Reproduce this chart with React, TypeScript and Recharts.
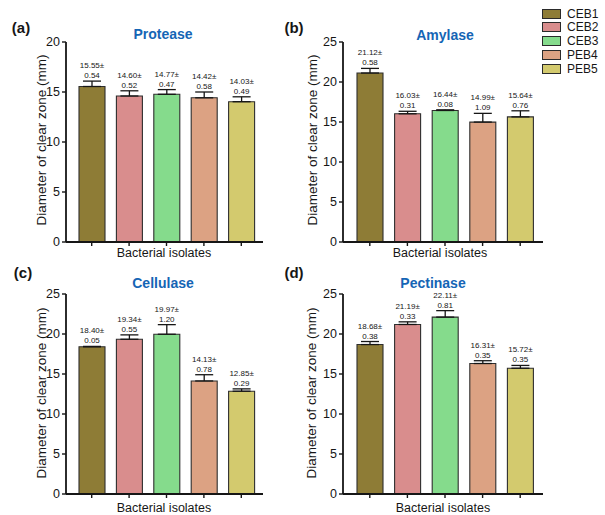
import { BarChart, Bar, XAxis, YAxis, ErrorBar, Cell, LabelList } from "recharts";

const isolates = ["CEB1", "CEB2", "CEB3", "PEB4", "PEB5"];

const proteaseMean = [15.55, 14.6, 14.77, 14.42, 14.03];
const proteaseSd = [0.54, 0.52, 0.47, 0.58, 0.49];
const amylaseMean = [21.12, 16.03, 16.44, 14.99, 15.64];
const amylaseSd = [0.58, 0.31, 0.08, 1.09, 0.76];
const cellulaseMean = [18.4, 19.34, 19.97, 14.13, 12.85];
const cellulaseSd = [0.05, 0.55, 1.2, 0.78, 0.29];
const pectinaseMean = [18.68, 21.19, 22.11, 16.31, 15.72];
const pectinaseSd = [0.38, 0.33, 0.81, 0.35, 0.35];

const ticks20 = [0, 5, 10, 15, 20];
const ticks25 = [0, 5, 10, 15, 20, 25];

const fills = ["#8e7c36", "#d98d8d", "#85db8c", "#dca283", "#d3ca6e"];
const font = "'Liberation Sans', Arial, sans-serif";
const ink = "#161616";
const titleBlue = "#1565b5";

type PanelProps = {
  left: number;
  top: number;
  width: number;
  plotWidth: number;
  marginLeft: number;
  padLeft: number;
  padRight: number;
  mean: number[];
  sd: number[];
  max: number;
  ticks: number[];
};

function Panel({ left, top, width, plotWidth, marginLeft, padLeft, padRight, mean, sd, max, ticks }: PanelProps) {
  const data = isolates.map((name, i) => ({ name, mean: mean[i], err: [0, sd[i]] }));

  const renderLabel = (props: any) => {
    const { x, y, width: w, height: h, value } = props;
    const i = isolates.indexOf(value);
    if (i < 0) return null;
    const pxPerUnit = Math.abs(h) / mean[i];
    const errTop = y - sd[i] * pxPerUnit;
    const cx = x + w / 2;
    return (
      <g>
        <text x={cx} y={errTop - 13} textAnchor="middle" fontSize={8} fill={ink} fontFamily={font}>
          {mean[i].toFixed(2)}±
        </text>
        <text x={cx} y={errTop - 3} textAnchor="middle" fontSize={8} fill={ink} fontFamily={font}>
          {sd[i].toFixed(2)}
        </text>
      </g>
    );
  };

  return (
    <div style={{ position: "absolute", left, top }}>
      <BarChart
        width={width}
        height={260}
        data={data}
        margin={{ top: 42, right: width - 30 - marginLeft - plotWidth, left: marginLeft, bottom: 0 }}
      >
        <XAxis
          dataKey="name"
          tickFormatter={() => ""}
          tickSize={4}
          height={18}
          padding={{ left: padLeft, right: padRight }}
          axisLine={{ stroke: ink, strokeWidth: 1.8 }}
          tickLine={{ stroke: ink, strokeWidth: 1.4 }}
        />
        <YAxis
          domain={[0, max]}
          ticks={ticks}
          width={30}
          tickSize={4}
          interval={0}
          axisLine={{ stroke: ink, strokeWidth: 1.8 }}
          tickLine={{ stroke: ink, strokeWidth: 1.4 }}
          tick={{ fontSize: 12.5, fill: ink, fontFamily: font }}
        />
        <Bar dataKey="mean" barSize={26} stroke="#2e2e2e" strokeWidth={1.1} isAnimationActive={false}>
          {data.map((d, i) => (
            <Cell key={d.name} fill={fills[i]} />
          ))}
          <ErrorBar dataKey="err" direction="y" width={9} stroke={ink} strokeWidth={1.3} />
          <LabelList dataKey="name" content={renderLabel} />
        </Bar>
      </BarChart>
    </div>
  );
}

function Txt({ x, y, size, bold, color, rotate, children }: any) {
  return (
    <div
      style={{
        position: "absolute",
        left: x,
        top: y,
        transform: `translate(-50%, -50%)${rotate ? " rotate(-90deg)" : ""}`,
        fontSize: size,
        fontWeight: bold ? 700 : 400,
        color: color || ink,
        fontFamily: font,
        whiteSpace: "nowrap",
        lineHeight: 1,
      }}
    >
      {children}
    </div>
  );
}

export default function App() {
  const yTitle = "Diameter of clear zone (mm)";
  const xTitle = "Bacterial isolates";
  return (
    <div style={{ position: "absolute", left: 0, top: 0, width: 605, height: 515, background: "#fff", overflow: "hidden" }}>
      <Panel left={0} top={0} width={300} plotWidth={197} marginLeft={36} padLeft={7} padRight={3}
        mean={proteaseMean} sd={proteaseSd} max={20} ticks={ticks20} />
      <Panel left={300} top={0} width={260} plotWidth={200} marginLeft={13} padLeft={8} padRight={4}
        mean={amylaseMean} sd={amylaseSd} max={25} ticks={ticks25} />
      <Panel left={0} top={252} width={300} plotWidth={197} marginLeft={36} padLeft={7} padRight={3}
        mean={cellulaseMean} sd={cellulaseSd} max={25} ticks={ticks25} />
      <Panel left={300} top={252} width={260} plotWidth={200} marginLeft={13} padLeft={8} padRight={4}
        mean={pectinaseMean} sd={pectinaseSd} max={25} ticks={ticks25} />

      <Txt x={21} y={27} size={15} bold>(a)</Txt>
      <Txt x={294} y={27} size={15} bold>(b)</Txt>
      <Txt x={23} y={272} size={15} bold>(c)</Txt>
      <Txt x={294} y={272} size={15} bold>(d)</Txt>

      <Txt x={163} y={34} size={14} bold color={titleBlue}>Protease</Txt>
      <Txt x={445} y={35} size={14} bold color={titleBlue}>Amylase</Txt>
      <Txt x={163} y={283} size={14} bold color={titleBlue}>Cellulase</Txt>
      <Txt x={433} y={283} size={14} bold color={titleBlue}>Pectinase</Txt>

      <Txt x={42} y={140} size={13.5} rotate>{yTitle}</Txt>
      <Txt x={313} y={140} size={13.5} rotate>{yTitle}</Txt>
      <Txt x={42} y={393} size={13.5} rotate>{yTitle}</Txt>
      <Txt x={312} y={393} size={13.5} rotate>{yTitle}</Txt>

      <Txt x={164} y={253} size={12.5}>{xTitle}</Txt>
      <Txt x={440} y={253} size={12.5}>{xTitle}</Txt>
      <Txt x={164} y={508} size={12.5}>{xTitle}</Txt>
      <Txt x={443} y={508} size={12.5}>{xTitle}</Txt>

      {isolates.map((name, i) => (
        <div key={name} style={{ position: "absolute", left: 542, top: 8 + i * 13.8, height: 11, display: "flex", alignItems: "center" }}>
          <div style={{ width: 17, height: 8, background: fills[i], border: "1px solid #2a2a2a" }} />
          <span style={{ marginLeft: 6, fontSize: 12, fontFamily: font, color: ink, lineHeight: 1 }}>{name}</span>
        </div>
      ))}
    </div>
  );
}
